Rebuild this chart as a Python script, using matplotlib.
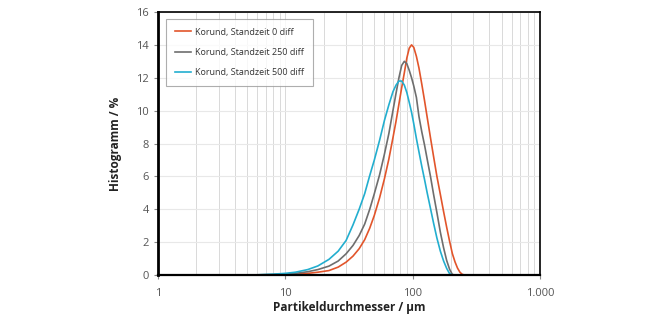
import matplotlib
matplotlib.use("Agg")
import matplotlib.pyplot as plt
from matplotlib.ticker import FixedLocator, LogLocator, NullFormatter

sizes = [1, 2, 4, 6, 8, 10, 12, 15, 18, 22, 26, 30, 34, 38, 42, 46, 50, 55, 60, 65,
         70, 74, 78, 82, 86, 90, 94, 98, 102, 107, 112, 118, 124, 130, 138, 146, 155, 165, 175,
         185, 195, 205, 215, 225, 235, 245, 255, 300, 500, 1000]

korund_0 = [0, 0, 0, 0, 0.01, 0.03, 0.05, 0.1, 0.17, 0.27, 0.48, 0.78, 1.15, 1.6, 2.15, 2.85,
            3.63, 4.7, 5.85, 7.05,
            8.35, 9.35, 10.4, 11.4, 12.3, 13.2, 13.8, 14.0, 13.85, 13.3, 12.6, 11.6, 10.6, 9.6,
            8.35, 7.2, 6.0, 4.9, 3.85, 2.9, 2.05, 1.3, 0.8, 0.42, 0.17, 0.04, 0,
            0, 0, 0]
korund_250 = [0, 0, 0, 0.01, 0.03, 0.06, 0.1, 0.2, 0.33, 0.54, 0.85, 1.29, 1.8, 2.4, 3.1, 4.0,
              4.95, 6.1, 7.35, 8.6,
              10.0, 11.05, 12.0, 12.75, 13.0, 12.85, 12.45, 12.0, 11.5, 10.8, 9.65, 8.7, 7.9, 7.05,
              6.0, 4.9, 3.8, 2.6, 1.65, 0.88, 0.35, 0.03, 0, 0, 0, 0, 0,
              0, 0, 0]
korund_500 = [0, 0, 0, 0.01, 0.05, 0.1, 0.17, 0.33, 0.55, 0.95, 1.45, 2.1, 3.05, 4.0, 4.95, 6.05,
              7.0, 8.2, 9.4, 10.35,
              11.15, 11.55, 11.8, 11.8, 11.55, 11.1, 10.5, 9.9, 9.2, 8.3, 7.5, 6.6, 5.8, 5.0,
              4.05, 3.15, 2.25, 1.45, 0.85, 0.4, 0.08, 0, 0, 0, 0, 0, 0,
              0, 0, 0]

labels = ["Korund, Standzeit 0 diff", "Korund, Standzeit 250 diff", "Korund, Standzeit 500 diff"]
colors = ["#E2552B", "#6E6E6E", "#22AECF"]

x_ticks = [1, 10, 100, 1000]
x_ticklabels = ["1", "10", "100", "1.000"]
y_ticks = [0, 2, 4, 6, 8, 10, 12, 14, 16]

plt.rcParams['font.family'] = ['Open Sans', 'DejaVu Sans']

fig = plt.figure(figsize=(6.6, 3.18), dpi=100)
ax = fig.add_axes([158/660, 1 - 275/318, (540-158)/660, (275-12)/318])

for vals, lab, col in zip([korund_0, korund_250, korund_500], labels, colors):
    ax.plot(sizes, vals, color=col, lw=1.2, label=lab)

ax.set_xscale('log')
ax.set_xlim(1, 1000)
ax.set_ylim(0, 16)
ax.xaxis.set_major_locator(FixedLocator(x_ticks))
ax.set_xticklabels(x_ticklabels)
ax.xaxis.set_minor_locator(LogLocator(base=10, subs=range(2, 10)))
ax.xaxis.set_minor_formatter(NullFormatter())
ax.set_yticks(y_ticks)

ax.grid(True, which='major', axis='y', color='#e8e8e8', lw=0.8)
ax.grid(True, which='both', axis='x', color='#d9d9d9', lw=0.7)
ax.set_axisbelow(True)

for side in ['top', 'right']:
    ax.spines[side].set_linewidth(1.2)
    ax.spines[side].set_color('black')
ax.spines['left'].set_linewidth(2.0)
ax.spines['bottom'].set_linewidth(1.6)

ax.tick_params(axis='both', which='major', labelsize=8, labelcolor='#555555',
               length=3, width=0.8, color='#888888', direction='out')
ax.tick_params(axis='x', which='minor', length=0)
ax.tick_params(axis='x', pad=6)

ax.set_xlabel("Partikeldurchmesser / µm", fontsize=8.5, fontweight='bold', color='#222222', labelpad=2)
ax.set_ylabel("Histogramm / %", fontsize=8.5, fontweight='bold', color='#222222', labelpad=10)

leg = ax.legend(loc='upper left', bbox_to_anchor=(0.022, 0.975), borderaxespad=0,
                fontsize=6.5, frameon=True, fancybox=False, edgecolor='#9a9a9a',
                handlelength=1.7, handletextpad=0.5, labelspacing=1.25,
                borderpad=1.0)
leg.get_frame().set_linewidth(0.8)
for t in leg.get_texts():
    t.set_color('#333333')

fig.savefig("out.png", dpi=100)
